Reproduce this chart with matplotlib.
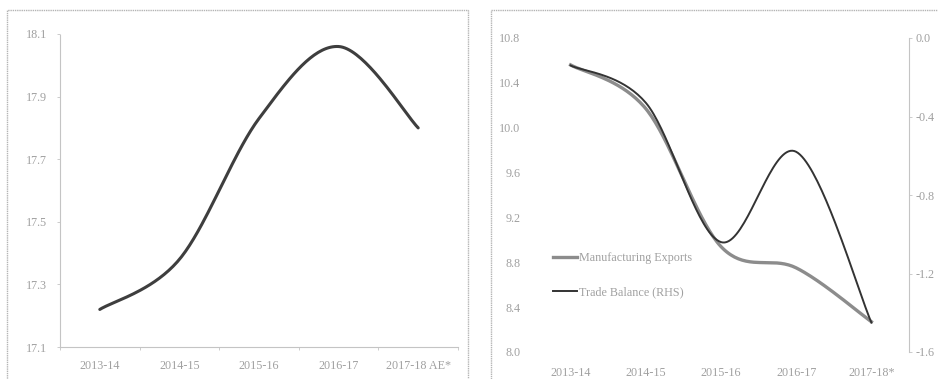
import numpy as np
import matplotlib
matplotlib.use("Agg")
import matplotlib.pyplot as plt
from matplotlib.patches import Rectangle

plt.rcParams['font.family'] = ['Liberation Serif', 'DejaVu Serif']

# ---- data ----
years_left = ["2013-14", "2014-15", "2015-16", "2016-17", "2017-18 AE*"]
share_values = [17.22, 17.38, 17.83, 18.06, 17.80]
left_ticks = [17.1, 17.3, 17.5, 17.7, 17.9, 18.1]

years_right = ["2013-14", "2014-15", "2015-16", "2016-17", "2017-18*"]
manuf_exports = [10.56, 10.17, 8.94, 8.75, 8.27]
trade_balance = [-0.14, -0.33, -1.04, -0.58, -1.45]
lhs_ticks = [8.0, 8.4, 8.8, 9.2, 9.6, 10.0, 10.4, 10.8]
rhs_ticks = [-1.6, -1.2, -0.8, -0.4, 0.0]

TXT = "#a0a0a0"
AX = "#c4c4c4"
FS = 8.7


def smooth(y, n=40):
    """Bezier smoothing through the points (Catmull-Rom style)."""
    x = np.arange(len(y), dtype=float)
    pts = np.column_stack([x, np.asarray(y, float)])
    out = []
    for i in range(len(pts) - 1):
        p0 = pts[i - 1] if i > 0 else pts[i]
        p1, p2 = pts[i], pts[i + 1]
        p3 = pts[i + 2] if i + 2 < len(pts) else pts[i + 1]
        c1 = p1 + (p2 - p0) / 6.0
        c2 = p2 - (p3 - p1) / 6.0
        t = np.linspace(0, 1, n)[:, None]
        seg = ((1 - t) ** 3) * p1 + 3 * ((1 - t) ** 2) * t * c1 + 3 * (1 - t) * t ** 2 * c2 + t ** 3 * p2
        out.append(seg if i == 0 else seg[1:])
    s = np.vstack(out)
    return s[:, 0], s[:, 1]


W, H = 938, 379
fig = plt.figure(figsize=(W / 100, H / 100), dpi=100)
fig.patch.set_facecolor("white")

# panel frames
for (x0, x1) in [(7, 468), (491, 950)]:
    fig.add_artist(Rectangle((x0 / W, -0.05), (x1 - x0) / W, (H - 10) / H + 0.05,
                             transform=fig.transFigure, fill=False,
                             edgecolor="#b4b4b4", lw=1.0, linestyle=(0, (1, 0.6))))

# ---- left panel ----
axL = fig.add_axes([60 / W, (H - 347) / H, 398 / W, 313 / H])
xs, ys = smooth(share_values)
axL.plot(xs, ys, color="#3e3e3e", lw=2.2, solid_capstyle="round")
axL.set_xlim(-0.5, 4.5)
axL.set_ylim(17.1, 18.1)
axL.set_yticks(left_ticks)
axL.set_yticklabels([f"{v:.1f}" for v in left_ticks])
axL.set_xticks(range(len(years_left)))
axL.set_xticklabels(years_left)
axL.set_xticks(np.arange(-0.5, 5.0, 1.0), minor=True)
axL.tick_params(axis="x", which="major", length=0, pad=9.5, labelsize=FS, labelcolor=TXT)
axL.tick_params(axis="x", which="minor", length=2.5, color=AX, width=0.6)
axL.tick_params(axis="y", length=2.5, color=AX, width=0.6, pad=7, labelsize=FS, labelcolor=TXT)
for side in ["top", "right"]:
    axL.spines[side].set_visible(False)
for side in ["left", "bottom"]:
    axL.spines[side].set_color(AX)
    axL.spines[side].set_linestyle((0, (1, 1)))
    axL.spines[side].set_linewidth(0.8)

# ---- right panel ----
axR = fig.add_axes([533 / W, (H - 352) / H, 376 / W, 314 / H])
axR2 = axR.twinx()
xm, ym = smooth(manuf_exports)
xt, yt = smooth(trade_balance)
h1, = axR.plot(xm, ym, color="#8c8c8c", lw=2.4, label="Manufacturing Exports")
h2, = axR2.plot(xt, yt, color="#333333", lw=1.4, label="Trade Balance (RHS)")
axR.set_xlim(-0.5, 4.5)
axR.set_ylim(8.0, 10.8)
axR2.set_ylim(-1.6, 0.0)
axR.set_yticks(lhs_ticks)
axR.set_yticklabels([f"{v:.1f}" for v in lhs_ticks])
axR2.set_yticks(rhs_ticks)
axR2.set_yticklabels([f"{v:.1f}" for v in rhs_ticks])
axR.set_xticks(range(len(years_right)))
axR.set_xticklabels(years_right)
axR.tick_params(axis="x", length=0, pad=11, labelsize=FS, labelcolor=TXT)
axR.tick_params(axis="y", length=0, pad=9, labelsize=FS, labelcolor=TXT)
axR2.tick_params(axis="y", length=2, color=AX, width=0.6, pad=3, labelsize=FS, labelcolor=TXT)
for a in (axR, axR2):
    for side in ["top", "left", "bottom", "right"]:
        a.spines[side].set_visible(False)
axR2.spines["right"].set_visible(True)
axR2.spines["right"].set_color(AX)
axR2.spines["right"].set_linestyle((0, (1, 1)))
axR2.spines["right"].set_linewidth(0.8)

leg = axR.legend(handles=[h1, h2], loc="upper left", bbox_to_anchor=(0.053, 0.318),
                 frameon=False, fontsize=FS, handlelength=2.0, handletextpad=0.15,
                 labelspacing=1.85, borderpad=0, borderaxespad=0)
for t in leg.get_texts():
    t.set_color(TXT)

fig.savefig("out.png", dpi=100, facecolor="white")
